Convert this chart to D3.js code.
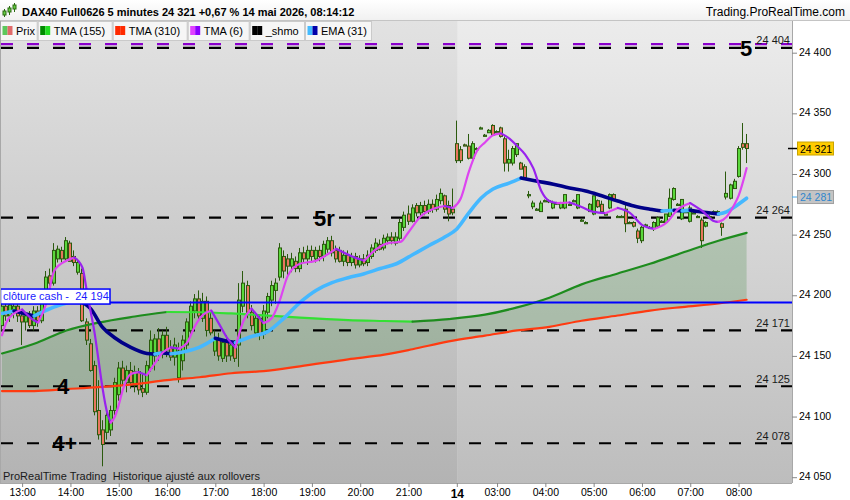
<!DOCTYPE html>
<html><head><meta charset="utf-8">
<script src="https://cdn.jsdelivr.net/npm/d3@7"></script>
<style>body{margin:0;background:#fff;} svg{display:block;font-family:"Liberation Sans",Arial,sans-serif;}</style>
</head><body><svg id="c" width="850" height="500"></svg>
<script>
// ---------------- DATA ----------------
const barOpen=[24175,24191,24183,24186,24191,24183,24178,24183,24175,24187,24179,24198,24216,24210,24230,24237,24230,24243,24232,24219,
24218,24178,24160,24142,24105,24089,24087,24089,24105,24118,24140,24128,24138,24126,24137,24123,24120,24140,24150,24164,
24153,24167,24156,24149,24132,24146,24159,24171,24187,24197,24181,24195,24181,24154,24164,24148,24161,24150,24159,24159,
24191,24208,24186,24169,24181,24168,24186,24196,24204,24215,24232,24230,24224,24228,24222,24235,24230,24237,24230,24237,
24232,24238,24245,24237,24237,24228,24233,24227,24232,24225,24230,24227,24232,24237,24242,24239,24245,24248,24243,24247,
24256,24267,24261,24274,24268,24274,24269,24275,24271,24278,24282,24274,24271,24325,24320,24324,24323,24313,24321,24338,
24332,24334,24340,24335,24338,24329,24309,24309,24316,24309,24306,24283,24273,24271,24269,24278,24278,24272,24276,24272,
24272,24275,24278,24272,24262,24260,24269,24267,24278,24275,24267,24272,24283,24265,24265,24271,24260,24260,24253,24245,
24258,24256,24255,24257,24261,24260,24265,24279,24275,24263,24269,24261,24268,24265,24262,24257,24265,24269,24269,24259,
24281,24280,24288,24298,24325,24325];
const barHigh=[24194,24196,24198,24196,24194,24187,24186,24187,24191,24191,24201,24220,24222,24243,24241,24240,24248,24245,24237,24230,
24222,24181,24164,24146,24130,24097,24105,24109,24132,24145,24146,24142,24145,24142,24140,24136,24146,24171,24168,24173,
24171,24174,24163,24165,24161,24167,24181,24195,24201,24204,24202,24199,24186,24171,24169,24164,24167,24163,24163,24210,
24220,24212,24192,24186,24184,24192,24202,24212,24214,24243,24237,24234,24235,24232,24239,24240,24241,24241,24240,24241,
24245,24248,24249,24241,24240,24237,24237,24235,24235,24233,24234,24237,24242,24247,24246,24250,24251,24252,24252,24263,
24269,24274,24275,24276,24277,24278,24279,24279,24283,24288,24283,24278,24288,24344,24323,24325,24333,24327,24322,24339,
24333,24337,24341,24336,24339,24331,24320,24323,24325,24310,24308,24286,24278,24272,24278,24279,24279,24278,24277,24277,
24283,24276,24279,24283,24263,24261,24276,24282,24279,24278,24268,24284,24284,24266,24266,24275,24261,24261,24255,24257,
24259,24257,24261,24265,24262,24267,24288,24289,24276,24279,24270,24274,24269,24266,24264,24261,24266,24270,24270,24260,
24302,24292,24296,24323,24342,24333];
const barLow=[24171,24179,24178,24181,24178,24159,24171,24173,24171,24174,24177,24196,24207,24208,24227,24227,24228,24228,24224,24217,
24178,24159,24137,24101,24081,24059,24081,24084,24101,24113,24126,24120,24123,24120,24118,24116,24118,24137,24138,24146,
24148,24149,24146,24142,24128,24138,24154,24167,24181,24179,24178,24166,24167,24150,24146,24145,24145,24146,24145,24141,
24186,24181,24171,24166,24163,24164,24181,24191,24193,24212,24214,24216,24219,24219,24219,24227,24225,24227,24227,24228,
24228,24235,24232,24227,24227,24224,24224,24224,24222,24223,24224,24224,24230,24235,24237,24237,24242,24242,24241,24245,
24253,24258,24260,24265,24265,24266,24267,24268,24269,24275,24268,24261,24266,24309,24309,24323,24312,24312,24320,24337,
24331,24334,24332,24334,24330,24302,24302,24307,24314,24304,24296,24280,24271,24270,24269,24277,24276,24271,24275,24271,
24271,24274,24277,24271,24261,24259,24269,24266,24272,24268,24266,24271,24278,24264,24264,24252,24259,24256,24243,24243,
24257,24255,24253,24256,24260,24259,24265,24278,24274,24262,24268,24260,24267,24264,24239,24256,24264,24268,24268,24249,
24279,24279,24288,24297,24320,24309];
const barClose=[24191,24183,24192,24191,24183,24178,24183,24175,24187,24179,24199,24215,24210,24237,24238,24230,24245,24228,24227,24227,
24179,24163,24138,24104,24085,24077,24101,24105,24128,24140,24130,24138,24128,24137,24122,24120,24142,24163,24164,24153,
24167,24155,24149,24159,24154,24163,24178,24191,24197,24183,24195,24171,24169,24164,24150,24161,24150,24159,24148,24196,
24210,24186,24175,24181,24168,24187,24199,24208,24210,24239,24220,24224,24230,24222,24235,24230,24237,24232,24237,24232,
24242,24245,24235,24230,24228,24233,24227,24232,24225,24230,24226,24233,24239,24243,24238,24247,24248,24245,24248,24260,
24266,24261,24272,24268,24274,24269,24275,24271,24279,24284,24271,24267,24268,24311,24311,24323,24313,24325,24321,24338,
24332,24336,24332,24335,24331,24309,24312,24321,24325,24304,24297,24283,24276,24271,24276,24278,24277,24276,24276,24276,
24283,24275,24278,24283,24262,24260,24275,24282,24273,24269,24267,24283,24278,24265,24265,24259,24260,24257,24247,24256,
24258,24256,24260,24264,24261,24267,24280,24288,24275,24279,24269,24272,24268,24265,24245,24260,24265,24269,24269,24256,
24284,24291,24294,24321,24322,24321];

const tickIndex=[5,17,29,41,53,65,77,89,101,113,123,135,147,159,171,183];
const tickLabels=["13:00","14:00","15:00","16:00","17:00","18:00","19:00","20:00","21:00","14","03:00","04:00","05:00","06:00","07:00","08:00"];
const priceTicks=[24050,24100,24150,24200,24250,24300,24350,24400];

const tmaIndex=[0,8,16,24,33,41,49,57,65,74,86,95,102,111,120,128,136,144,153,161,169,178,185];
const tma155=[24152,24160,24171,24177.5,24182.5,24186.2,24186,24185,24183.5,24181.5,24179.5,24178.8,24178.3,24180.4,24184,24190,24198,24209,24218,24226,24235,24245,24251.5];
const tma310=[24121,24121,24122.6,24124.2,24126.7,24130,24132.4,24135.7,24137.5,24141.4,24147.2,24151,24155.5,24162,24166.7,24171,24174,24179,24183.3,24187.4,24190.3,24193.2,24196.3];

const tma6Index=[0,1,3,5,8,9,11,13,16,18,20,21,22,23,24,25,26,27,28,29,30,32,34,36,38,40,42,44,46,48,50,52,54,56,58,60,62,64,65,67,69,71,74,78,81,83,87,90,93,96,99,101,104,107,110,112,114,116,118,120,122,124,126,128,130,132,134,136,138,141,144,147,150,153,156,159,162,165,168,171,174,177,178,180,182,183,185];
const tma6=[24167,24177,24185,24188.3,24179.2,24177.6,24193.2,24220.3,24228.5,24231,24222.7,24205,24187,24169,24146,24123,24105,24095,24099.6,24109.5,24121.8,24135,24136.6,24134.1,24144,24153,24157,24156,24161,24175,24184,24187.4,24176,24164.5,24157,24179,24189,24181,24177,24181,24195.6,24216,24226,24228.5,24234,24238.3,24232,24228.5,24238,24243,24244,24252,24265,24271,24273.6,24272,24280,24302,24319,24326,24332,24333.5,24329.4,24323,24316,24304.8,24286,24277.7,24276,24276.5,24272.8,24268.7,24267.8,24272,24268,24258,24254.7,24259.6,24271,24276,24269.5,24261,24260.5,24264.6,24275,24282,24304.8];

const emaIndex=[0,3,8,14,19,22,25,28,32,36,38,40,42,44,46,49,53,56,58,62,66,70,74,78,82,86,90,94,98,102,106,110,113,116,119,122,126,129,133,137,141,145,149,153,157,161,164,167,169,171,173,176,178,180,182,185];
const ema31=[24185,24187,24183,24191.5,24195.6,24189,24173.5,24165,24157,24152,24151.5,24152.5,24151.8,24152.6,24154,24157,24164.5,24162,24161,24166,24170,24181,24194,24204,24210.4,24214.5,24217.8,24222,24226,24233.4,24240.8,24248,24254.7,24268,24280,24287.6,24292.5,24296.6,24294,24291.6,24288.4,24286,24282,24277.7,24273.6,24271,24269.5,24270,24269.6,24270.2,24269,24267.8,24267,24268.7,24272.8,24280];

const levelValues=[24404,24264,24171,24125,24078];
const levelLabels=["24 404","24 264","24 171","24 125","24 078"];
const purpleLevel=24407;
const markTexts=["5","5r","4","4+"];
const markLevels=[24404,24264,24125,24078];
const cashClose=24194, cashLabel="clôture cash -  24 194";
const lastPrice=24321, lastLabel="24 321";
const emaLast=24281, emaLabel="24 281";
const legendNames=["Prix","TMA (155)","TMA (310)","TMA (6)","_shmo","EMA (31)"];
const legendColors=[["#5cc85c","#e06a6a"],["#008a00","#22dd22"],["#ff2a00","#ff2a00"],["#e040ff","#8a00ff"],["#000","#000"],["#44bbff","#0000aa"]];
const titleText="DAX40 Full0626 5 minutes 24 321 +0,67 % 14 mai 2026, 08:14:12";
const siteText="Trading.ProRealTime.com";
const footText="ProRealTime Trading  Historique ajusté aux rollovers";

// ---------------- LAYOUT ----------------
const svg=d3.select("#c");
const plotL=0, plotR=792, plotT=21, plotB=483;
const x=d3.scaleLinear().domain([0,185]).range([2,746.6]);
const y=d3.scaleLinear().domain([24050,24400]).range([477.2,52.7]);
const defs=svg.append("defs");
function grad(id,stops){
  const g=defs.append("linearGradient").attr("id",id).attr("x1",0).attr("y1",0).attr("x2",0).attr("y2",1);
  stops.forEach(s=>g.append("stop").attr("offset",s[0]).attr("stop-color",s[1]));
}
grad("bgL",[[0,"#e2e2e2"],[1,"#b3b3b3"]]);
grad("bgR",[[0,"#ececec"],[1,"#bdbdbd"]]);
grad("title",[[0,"#ffffff"],[1,"#f1f1f1"]]);
defs.append("clipPath").attr("id","plotclip").append("rect").attr("x",plotL).attr("y",plotT).attr("width",plotR-plotL).attr("height",plotB-plotT);

svg.append("rect").attr("width",850).attr("height",500).attr("fill","#fff");
// title bar
svg.append("rect").attr("x",0).attr("y",0).attr("width",850).attr("height",20).attr("fill","url(#title)");
svg.append("line").attr("x1",0).attr("x2",850).attr("y1",20.5).attr("y2",20.5).attr("stroke","#c4c4c4");
// title candle icon
const ic=svg.append("g").attr("stroke","#2b6a10").attr("stroke-width",1);
[[4.5,9,17,11,15],[9.5,6,15,8,12],[14.5,3,12,5,9]].forEach(c=>{
  ic.append("line").attr("x1",c[0]).attr("x2",c[0]).attr("y1",c[1]).attr("y2",c[2]);
  ic.append("rect").attr("x",c[0]-1.5).attr("y",c[3]).attr("width",3).attr("height",c[4]-c[3]).attr("fill","#66cc44");
});
svg.append("text").attr("x",22).attr("y",16).attr("font-size",11).attr("font-weight","bold").attr("fill","#000").text(titleText);
svg.append("text").attr("x",845).attr("y",16).attr("text-anchor","end").attr("font-size",12).attr("fill","#000").text(siteText);

// plot background
const plot=svg.append("g").attr("clip-path","url(#plotclip)");
const dayX=x(113)+1;
plot.append("rect").attr("x",plotL).attr("y",plotT).attr("width",dayX-plotL).attr("height",plotB-plotT).attr("fill","url(#bgL)");
plot.append("rect").attr("x",dayX).attr("y",plotT).attr("width",plotR-dayX).attr("height",plotB-plotT).attr("fill","url(#bgR)");

// fill between TMA155 and TMA310
const tmaPts=tmaIndex.map((d,k)=>({i:d,a:tma155[k],b:tma310[k]}));
plot.append("path").datum(tmaPts)
  .attr("d",d3.area().x(d=>x(d.i)).y0(d=>y(d.b)).y1(d=>y(d.a)).curve(d3.curveMonotoneX))
  .attr("fill","rgba(30,120,30,0.2)");

// horizontal levels
plot.append("line").attr("x1",1).attr("x2",plotR).attr("y1",y(purpleLevel)).attr("y2",y(purpleLevel))
  .attr("stroke","#8a00cc").attr("stroke-width",2.2).attr("stroke-dasharray","12,14");
levelValues.forEach(v=>{
  plot.append("line").attr("x1",1).attr("x2",plotR).attr("y1",y(v)).attr("y2",y(v))
    .attr("stroke","#000").attr("stroke-width",2.2).attr("stroke-dasharray","12,14");
});

// candles
const cg=plot.append("g");
barClose.forEach((c,i)=>{
  const o=barOpen[i], h=barHigh[i], l=barLow[i];
  const cx=Math.round(x(i));
  cg.append("line").attr("x1",cx-0.5).attr("x2",cx-0.5).attr("y1",y(h)).attr("y2",y(l)).attr("stroke","#2b5a0e").attr("stroke-width",1);
  const top=y(Math.max(o,c)), bot=y(Math.min(o,c));
  cg.append("rect").attr("x",cx-1.5).attr("y",top).attr("width",3).attr("height",Math.max(bot-top,1.2))
    .attr("fill",c>=o?"#5ad83c":"#e8765e").attr("stroke","#2b5a0e").attr("stroke-width",1);
});

// slope-coloured lines
function colouredLine(idx,vals,up,down,w){
  const runs=[];
  for(let k=0;k<vals.length-1;k++){
    const col=vals[k+1]>=vals[k]?up:down;
    if(runs.length&&runs[runs.length-1].col===col) runs[runs.length-1].pts.push(k+1);
    else runs.push({col,pts:[k,k+1]});
  }
  const ln=d3.line().x(k=>x(idx[k])).y(k=>y(vals[k])).curve(d3.curveMonotoneX);
  runs.forEach(r=>plot.append("path").attr("d",ln(r.pts)).attr("fill","none").attr("stroke",r.col)
    .attr("stroke-width",w).attr("stroke-linecap","round").attr("stroke-linejoin","round"));
}
colouredLine(tmaIndex,tma310,"#ff3a10","#ff3a10",2.2);
colouredLine(tmaIndex,tma155,"#1e8c1e","#33e033",2.2);
colouredLine(emaIndex,ema31,"#45b8ff","#000088",3.6);
colouredLine(tma6Index,tma6,"#dd44f0","#9922ee",2.2);

// cash close line
plot.append("line").attr("x1",0).attr("x2",plotR).attr("y1",y(cashClose)).attr("y2",y(cashClose)).attr("stroke","#0000ff").attr("stroke-width",2);
plot.append("rect").attr("x",0.5).attr("y",y(cashClose)-13.5).attr("width",109.5).attr("height",15).attr("fill","#fff").attr("stroke","#0000ff").attr("stroke-width",1.5);
plot.append("text").attr("x",3).attr("y",y(cashClose)-2.5).attr("font-size",11).attr("fill","#1a1aff").style("white-space","pre").text(cashLabel);

// level labels
levelValues.forEach((v,k)=>{
  plot.append("text").attr("x",790).attr("y",y(v)-3.5).attr("text-anchor","end").attr("font-size",11).attr("fill","#1a1a1a").text(levelLabels[k]);
});
// big marks
const markX=[740,314,57,52];
markTexts.forEach((t,k)=>{
  plot.append("text").attr("x",markX[k]).attr("y",y(markLevels[k])+8).attr("font-size",22).attr("font-weight","bold").attr("fill","#000").text(t);
});
// foot text
plot.append("text").attr("x",3).attr("y",480).attr("font-size",11).attr("fill","#1a1a1a").style("white-space","pre").text(footText);

// legend boxes (over the plot top)
const boxW=[37.7,75,75,62,55.3,67];
let bx=0;
legendNames.forEach((n,k)=>{
  const g=svg.append("g").attr("transform",`translate(${bx},21)`);
  g.append("rect").attr("x",0.5).attr("y",0.5).attr("width",boxW[k]-1).attr("height",19).attr("fill","#f6f6f6").attr("stroke","#cacaca");
  g.append("rect").attr("x",2.5).attr("y",5).attr("width",5).attr("height",9).attr("fill",legendColors[k][0]);
  g.append("rect").attr("x",7.5).attr("y",5).attr("width",5).attr("height",9).attr("fill",legendColors[k][1]);
  g.append("text").attr("x",16).attr("y",14).attr("font-size",11).attr("fill","#000").text(n);
  bx+=boxW[k];
});

// frame lines
svg.append("line").attr("x1",plotR+0.5).attr("x2",plotR+0.5).attr("y1",plotT).attr("y2",plotB).attr("stroke","#a8a8a8");
svg.append("line").attr("x1",0).attr("x2",plotR).attr("y1",plotB+0.5).attr("y2",plotB+0.5).attr("stroke","#a8a8a8");
svg.append("line").attr("x1",0.5).attr("x2",0.5).attr("y1",plotT).attr("y2",plotB).attr("stroke","#a8a8a8");

// right axis
const ya=svg.append("g").attr("transform",`translate(${plotR},0)`)
  .call(d3.axisRight(y).tickValues(priceTicks).tickSize(5).tickPadding(2).tickFormat(d=>d3.format(",")(d).replace(","," ")));
ya.select(".domain").remove();
ya.selectAll("line").attr("stroke","#888");
ya.selectAll("text").attr("font-size",10.5).attr("font-family","Liberation Sans, Arial, sans-serif").attr("fill","#000").attr("dy","0.25em");

// price boxes
function priceBox(v,label,fill,stroke,tc){
  const yy=y(v);
  svg.append("rect").attr("x",797.5).attr("y",yy-6.5).attr("width",36).attr("height",13).attr("fill",fill).attr("stroke",stroke);
  svg.append("text").attr("x",800).attr("y",yy+4).attr("font-size",10.5).attr("fill",tc).text(label);
}
svg.append("line").attr("x1",plotR-4).attr("x2",797).attr("y1",y(lastPrice)).attr("y2",y(lastPrice)).attr("stroke","#000").attr("stroke-width",1.5);
priceBox(lastPrice,lastLabel,"#ffcc00","#c9a400","#000");
svg.append("line").attr("x1",plotR).attr("x2",797).attr("y1",y(emaLast)).attr("y2",y(emaLast)).attr("stroke","#44aaee").attr("stroke-width",1);
priceBox(emaLast,emaLabel,"#c4c4c4","#a0a0a0","#2f86cc");

// bottom axis
const xa=svg.append("g").attr("transform",`translate(0,${plotB})`)
  .call(d3.axisBottom(x).tickValues(tickIndex).tickSize(4).tickPadding(2).tickFormat((d,k)=>tickLabels[k]));
xa.select(".domain").remove();
xa.selectAll("line").attr("stroke","#888");
xa.selectAll("text").attr("font-family","Liberation Sans, Arial, sans-serif").attr("fill","#000")
  .attr("font-weight",(d,k)=>tickLabels[k]==="14"?"bold":"normal").attr("font-size",(d,k)=>tickLabels[k]==="14"?12:10.5);
</script></body></html>
